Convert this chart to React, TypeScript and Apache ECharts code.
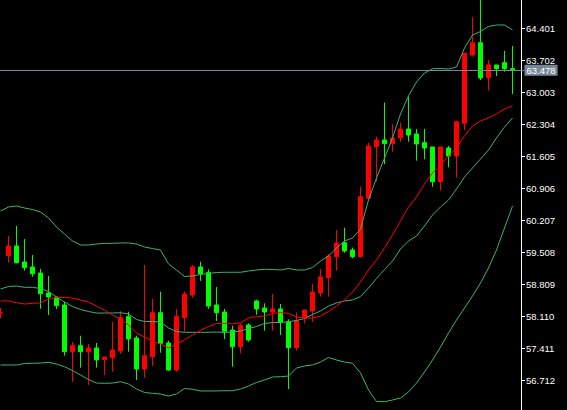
import React, { useEffect, useRef } from 'react';
import * as echarts from 'echarts';

const opens = [58.170, 59.427, 59.639, 59.290, 59.180, 59.049, 58.612, 58.525, 58.350, 57.330,
  57.461, 57.330, 57.411, 57.155, 57.199, 57.345, 58.095, 57.629, 56.952, 57.221,
  58.182, 57.520, 56.930, 58.073, 58.569, 59.180, 59.065, 58.350, 58.197, 57.804,
  57.439, 57.913, 58.438, 58.285, 58.197, 58.263, 57.985, 57.418, 58.073, 58.219,
  58.619, 58.947, 59.405, 59.711, 59.552, 59.405, 60.681, 61.808, 61.955, 61.874,
  62.005, 62.195, 62.086, 61.896, 61.802, 61.044, 61.780, 61.605, 62.319, 63.811,
  64.080, 63.315, 63.593, 63.643, 63.512];
const closes = [58.180, 59.639, 59.274, 59.165, 59.034, 58.597, 58.525, 58.335, 57.330, 57.461,
  57.330, 57.411, 57.149, 57.214, 57.367, 58.073, 57.608, 56.952, 57.243, 58.182,
  57.514, 56.930, 58.095, 58.591, 59.180, 59.034, 58.328, 58.182, 57.776, 57.439,
  57.898, 57.586, 58.263, 58.197, 58.263, 57.972, 57.418, 58.007, 58.241, 58.634,
  58.962, 59.421, 59.705, 59.530, 59.405, 60.716, 61.823, 61.955, 61.874, 61.998,
  62.195, 62.064, 61.867, 61.780, 61.044, 61.802, 61.605, 62.354, 63.848, 64.080,
  63.309, 63.593, 63.512, 63.512, 63.478];
const lows = [58.055, 59.274, 59.261, 59.100, 58.968, 58.269, 58.132, 58.263, 57.243, 56.675,
  56.981, 56.603, 56.981, 56.821, 56.893, 57.286, 57.330, 56.712, 56.762, 57.024,
  57.308, 56.909, 56.893, 57.767, 58.510, 58.875, 58.269, 58.001, 57.608, 57.002,
  57.295, 57.549, 58.138, 57.789, 57.789, 57.695, 56.515, 57.352, 57.950, 57.985,
  58.532, 58.532, 59.100, 59.493, 59.370, 59.392, 60.629, 61.044, 61.430, 61.699,
  61.917, 61.917, 61.502, 61.533, 60.934, 60.847, 61.358, 61.131, 62.173, 63.774,
  63.265, 63.031, 63.353, 63.446, 62.959];
const highs = [58.285, 59.857, 60.076, 59.792, 59.442, 59.137, 58.984, 58.532, 58.416, 57.542,
  57.680, 57.498, 57.520, 57.214, 57.979, 58.219, 58.204, 57.680, 59.224, 58.481,
  58.641, 57.570, 58.263, 58.641, 59.224, 59.296, 59.130, 58.743, 58.263, 57.898,
  57.950, 57.950, 58.466, 58.387, 58.591, 58.372, 58.038, 58.191, 58.241, 58.809,
  59.137, 59.464, 59.989, 60.039, 59.602, 60.934, 61.896, 62.027, 62.769, 62.304,
  62.332, 62.900, 62.195, 62.195, 61.802, 61.802, 61.823, 62.376, 63.848, 64.635,
  65.050, 63.702, 63.593, 63.899, 64.008];

const upperBand = [60.404, 60.491, 60.513, 60.469, 60.436, 60.382, 60.251, 60.054, 59.901, 59.748,
  59.661, 59.661, 59.683, 59.694, 59.698, 59.705, 59.705, 59.683, 59.617, 59.584,
  59.552, 59.246, 59.115, 58.973, 58.984, 59.016, 59.038, 59.060, 59.065, 59.065,
  59.065, 59.093, 59.115, 59.130, 59.126, 59.115, 59.148, 59.115, 59.115, 59.169,
  59.311, 59.421, 59.595, 59.748, 59.814, 60.010, 60.644, 61.124, 61.561, 61.998,
  62.522, 62.916, 63.221, 63.418, 63.512, 63.516, 63.505, 63.549, 63.964, 64.248,
  64.325, 64.434, 64.467, 64.467, 64.357];
const middleBand = [58.700, 58.754, 58.765, 58.737, 58.737, 58.711, 58.645, 58.525, 58.416, 58.317,
  58.252, 58.208, 58.175, 58.175, 58.175, 58.182, 58.154, 58.033, 57.990, 57.990,
  57.979, 57.848, 57.771, 57.754, 57.754, 57.754, 57.754, 57.760, 57.750, 57.760,
  57.782, 57.837, 57.880, 57.946, 57.968, 57.968, 57.985, 58.012, 58.055, 58.143,
  58.219, 58.328, 58.394, 58.438, 58.459, 58.536, 58.722, 58.929, 59.126, 59.311,
  59.573, 59.748, 59.857, 60.076, 60.316, 60.491, 60.644, 60.884, 61.146, 61.343,
  61.539, 61.736, 61.998, 62.238, 62.435];
const lowerBand = [57.040, 57.040, 57.040, 57.072, 57.077, 57.083, 57.099, 57.061, 57.002, 56.919,
  56.821, 56.723, 56.646, 56.640, 56.646, 56.675, 56.625, 56.515, 56.439, 56.421,
  56.406, 56.362, 56.406, 56.526, 56.509, 56.472, 56.472, 56.472, 56.478, 56.478,
  56.515, 56.581, 56.657, 56.712, 56.777, 56.784, 56.799, 56.974, 57.018, 57.040,
  57.105, 57.203, 57.149, 57.105, 57.077, 56.865, 56.493, 56.242, 56.238, 56.275,
  56.319, 56.450, 56.646, 56.887, 57.149, 57.433, 57.739, 58.022, 58.285, 58.547,
  58.831, 59.158, 59.552, 60.032, 60.513];
const redMA = [58.438, 58.438, 58.400, 58.372, 58.387, 58.394, 58.481, 58.514, 58.514, 58.503,
  58.459, 58.416, 58.328, 58.241, 58.132, 58.044, 57.913, 57.739, 57.651, 57.564,
  57.498, 57.411, 57.498, 57.586, 57.695, 57.793, 57.880, 57.946, 57.950, 57.935,
  57.963, 58.066, 58.095, 58.110, 58.165, 58.186, 58.165, 58.088, 58.060, 58.066,
  58.110, 58.208, 58.328, 58.459, 58.634, 58.853, 59.115, 59.333, 59.595, 59.879,
  60.185, 60.491, 60.709, 60.993, 61.234, 61.408, 61.605, 61.780, 62.042, 62.260,
  62.370, 62.435, 62.522, 62.632, 62.697];

const yTickMin = 56.013;
const yTickStep = 0.699;
const lastPrice = 63.478;

const UP = '#ff0000';
const DOWN = '#00ff00';
const BAND = '#3cb371';
const PRICE_LINE = '#778899';

export default function App() {
  const ref = useRef<HTMLDivElement>(null);
  useEffect(() => {
    const chart = echarts.init(ref.current!, null, { renderer: 'svg' });
    const n = opens.length;
    const cats = Array.from({ length: n + 1 }, (_, i) => String(i));
    const candles = opens.map((o, i) => [o, closes[i], lows[i], highs[i]]);
    const lineSeries = (data: number[], color: string) => ({
      type: 'line',
      data,
      symbol: 'none',
      showSymbol: false,
      silent: true,
      z: 3,
      lineStyle: { color, width: 1 },
    });
    chart.setOption({
      animation: false,
      backgroundColor: '#000000',
      grid: {
        left: -3.5,
        top: -4,
        width: 528,
        height: 416,
        containLabel: false,
        outerBoundsMode: 'none',
      },
      xAxis: { type: 'category', data: cats, boundaryGap: true, show: false },
      yAxis: {
        type: 'value',
        position: 'right',
        min: yTickMin,
        max: yTickMin + 13 * yTickStep,
        interval: yTickStep,
        offset: -3.5,
        axisLine: { show: true, lineStyle: { color: '#ffffff', width: 1 } },
        axisTick: { show: true, length: 4, lineStyle: { color: '#ffffff' } },
        axisLabel: {
          color: '#ffffff',
          fontFamily: 'Liberation Sans',
          fontSize: 9.5,
          margin: 5,
          showMaxLabel: false,
          formatter: (v: number) => v.toFixed(3),
        },
        splitLine: { show: false },
      },
      series: [
        {
          type: 'candlestick',
          data: candles,
          barWidth: 4,
          z: 2,
          itemStyle: {
            color: UP,
            color0: DOWN,
            borderColor: UP,
            borderColor0: DOWN,
            borderWidth: 1,
          },
          markLine: {
            silent: true,
            symbol: 'none',
            data: [{ yAxis: lastPrice }],
            lineStyle: { color: PRICE_LINE, type: 'solid', width: 1 },
            label: {
              show: true,
              position: 'end',
              distance: 0,
              formatter: lastPrice.toFixed(3),
              color: '#ffffff',
              backgroundColor: PRICE_LINE,
              padding: [1, 2, 0, 2],
              fontSize: 9.5,
              fontFamily: 'Liberation Sans',
            },
          },
        },
        lineSeries(upperBand, BAND),
        lineSeries(middleBand, BAND),
        lineSeries(lowerBand, BAND),
        lineSeries(redMA, UP),
      ],
    });
    return () => chart.dispose();
  }, []);
  return (
    <div
      ref={ref}
      style={{ position: 'fixed', left: 0, top: 0, width: 567, height: 410, background: '#000' }}
    />
  );
}
